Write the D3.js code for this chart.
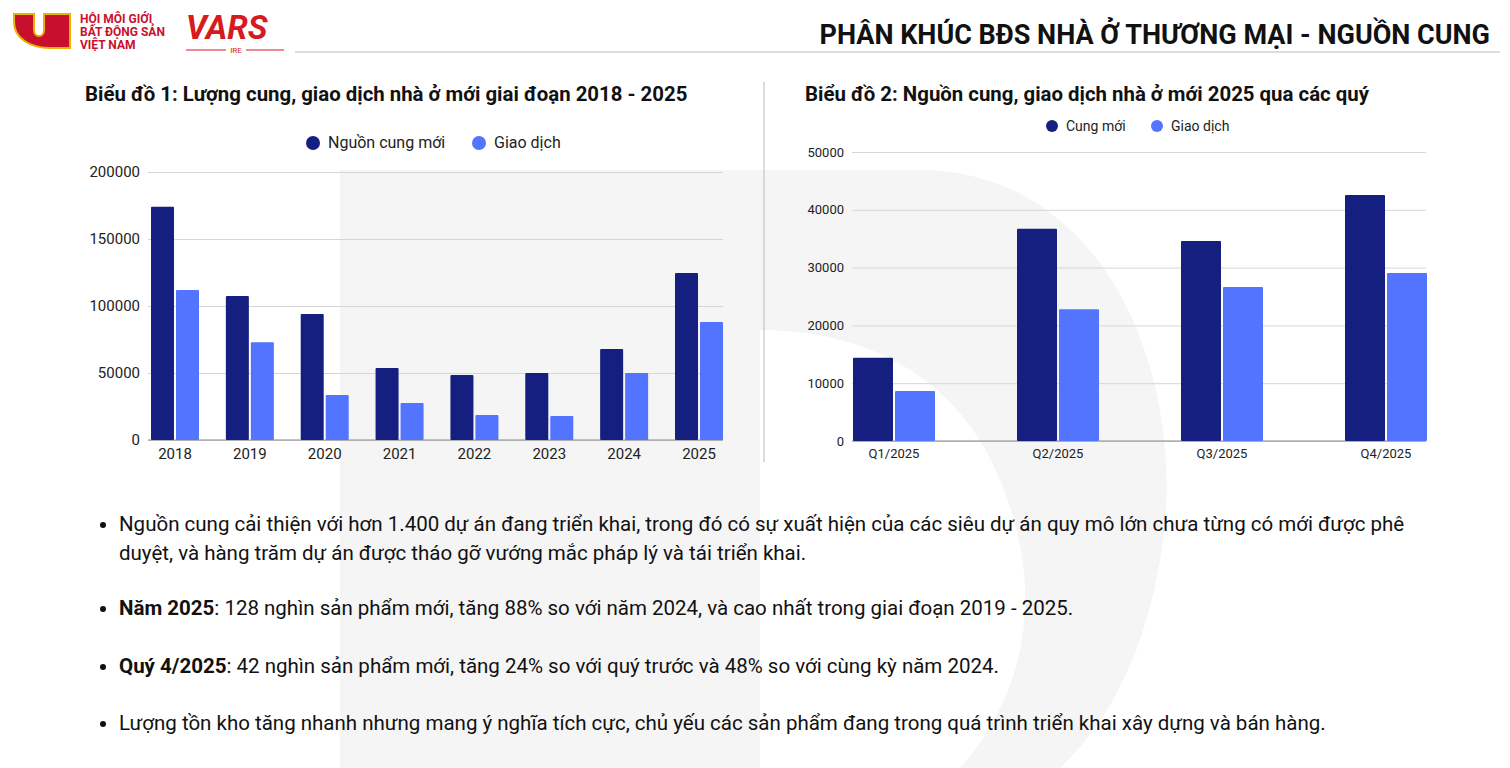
<!DOCTYPE html>
<html><head><meta charset="utf-8">
<script src="https://cdn.jsdelivr.net/npm/d3@7"></script>
<style>body{margin:0;background:#fff;font-family:Roboto,sans-serif}</style>
</head><body>
<script>
var years = ["2018","2019","2020","2021","2022","2023","2024","2025"],
    supplyYear = [174000,107500,94000,53700,48500,50000,68000,124600],
    dealsYear = [112000,73000,33600,27600,18700,17900,50000,88000],
    yearTicks = [0,50000,100000,150000,200000];

var quarters = ["Q1/2025","Q2/2025","Q3/2025","Q4/2025"],
    supplyQ = [14400,36700,34600,42550],
    dealsQ = [8650,22800,26650,29070],
    qTicks = [0,10000,20000,30000,40000,50000];

var DARK = "#141f7f", LIGHT = "#5274fe";

var svg = d3.select("body").append("svg").attr("width",1510).attr("height",768);

// watermark
svg.append("path").attr("fill","#f5f5f5")
  .attr("d","M340,170 L930,170 C1120,180 1190,400 1160,560 C1140,680 1090,740 1060,768 L960,768 C1020,700 1050,600 1000,480 C960,380 870,330 760,330 L760,768 L340,768 Z");

// header logos
var lg = svg.append("g");
lg.append("path").attr("fill","#c8102e").attr("stroke","#e8b400").attr("stroke-width",2)
  .attr("d","M14,14 L34,14 L34,30 C34,38 44,38 44,30 L44,14 L70,14 L70,48 L50,48 C30,48 14,38 14,22 Z");
lg.selectAll("text.org").data(["HỘI MÔI GIỚI","BẤT ĐỘNG SẢN","VIỆT NAM"]).enter().append("text")
  .attr("x",80).attr("y",function(d,i){return 23+i*13;})
  .attr("fill","#c8102e").attr("font-size",12).attr("font-weight",700).text(function(d){return d;});
lg.append("text").attr("x",186).attr("y",39).attr("fill","#d71920").attr("font-size",33)
  .attr("font-weight",700).attr("font-style","italic").text("VARS");
lg.append("text").attr("x",236).attr("y",53).attr("text-anchor","middle").attr("fill","#d71920")
  .attr("font-size",8).text("IRE");
lg.append("line").attr("x1",186).attr("x2",226).attr("y1",50).attr("y2",50).attr("stroke","#d71920");
lg.append("line").attr("x1",246).attr("x2",284).attr("y1",50).attr("y2",50).attr("stroke","#d71920");

svg.append("text").attr("x",1490).attr("y",44).attr("text-anchor","end")
  .attr("font-size",27).attr("font-weight",700).attr("fill","#111")
  .text("PHÂN KHÚC BĐS NHÀ Ở THƯƠNG MẠI - NGUỒN CUNG");
svg.append("line").attr("x1",295).attr("x2",1500).attr("y1",52).attr("y2",52).attr("stroke","#bbb");
svg.append("line").attr("x1",764).attr("x2",764).attr("y1",82).attr("y2",462).attr("stroke","#bbb");

function chart(o){
  var g = svg.append("g");
  g.append("text").attr("x",o.tx).attr("y",101).attr("font-size",20.4).attr("font-weight",700)
    .attr("fill","#111").text(o.title);
  var y = d3.scaleLinear().domain([0,o.max]).range([o.y0,o.y1]);
  var x = d3.scalePoint().domain(o.cats).range(o.xr);
  g.append("g").attr("transform","translate("+o.gx0+",0)")
    .call(d3.axisLeft(y).tickValues(o.ticks).tickFormat(d3.format("d")).tickSize(-(o.gx1-o.gx0)).tickPadding(o.pad))
    .call(function(a){
      a.select(".domain").remove();
      a.selectAll(".tick line").attr("stroke","#d6d6d6");
      a.selectAll(".tick text").attr("font-size",o.fs).attr("fill","#222").attr("font-family","Roboto");
    });
  g.append("line").attr("x1",o.gx0).attr("x2",o.gx1).attr("y1",o.y0).attr("y2",o.y0).attr("stroke","#888");
  var series = [{v:o.s1,c:DARK,dx:-o.bw-1},{v:o.s2,c:LIGHT,dx:1}];
  series.forEach(function(s){
    g.selectAll(null).data(o.cats).enter().append("rect")
      .attr("x",function(d){return x(d)+s.dx;}).attr("width",o.bw)
      .attr("y",function(d,i){return y(s.v[i]);})
      .attr("height",function(d,i){return o.y0-y(s.v[i]);})
      .attr("fill",s.c).attr("rx",1);
  });
  g.selectAll(null).data(o.cats).enter().append("text")
    .attr("x",function(d){return x(d);}).attr("y",o.y0+o.ly).attr("text-anchor","middle")
    .attr("font-size",o.fs).attr("fill","#222").text(function(d){return d;});
  var lgd = g.selectAll(null).data(o.legend).enter().append("g")
    .attr("transform",function(d,i){return "translate("+o.lx[i]+","+o.legy+")";});
  lgd.append("circle").attr("r",o.lr).attr("fill",function(d,i){return i?LIGHT:DARK;});
  lgd.append("text").attr("x",o.lr+8).attr("y",5).attr("font-size",o.lfs).attr("fill","#222")
    .text(function(d){return d;});
}

chart({title:"Biểu đồ 1: Lượng cung, giao dịch nhà ở mới giai đoạn 2018 - 2025",tx:85,
  cats:years,s1:supplyYear,s2:dealsYear,ticks:yearTicks,max:200000,y0:440,y1:172,
  xr:[175,699],gx0:148,gx1:723,bw:23,fs:15,pad:8,ly:19,
  legend:["Nguồn cung mới","Giao dịch"],lx:[313,479],legy:143,lr:7,lfs:16});
chart({title:"Biểu đồ 2: Nguồn cung, giao dịch nhà ở mới 2025 qua các quý",tx:805,
  cats:quarters,s1:supplyQ,s2:dealsQ,ticks:qTicks,max:50000,y0:441,y1:152,
  xr:[894,1386],gx0:852,gx1:1426,bw:40,fs:13,pad:8,ly:17,
  legend:["Cung mới","Giao dịch"],lx:[1052,1157],legy:126,lr:6,lfs:14});

// bullets
var bullets = [
  {y:531,parts:[["","Nguồn cung cải thiện với hơn 1.400 dự án đang triển khai, trong đó có sự xuất hiện của các siêu dự án quy mô lớn chưa từng có mới được phê"]]},
  {y:560,parts:[["","duyệt, và hàng trăm dự án được tháo gỡ vướng mắc pháp lý và tái triển khai."]],nob:true},
  {y:615,parts:[["b","Năm 2025"],["",": 128 nghìn sản phẩm mới, tăng 88% so với năm 2024, và cao nhất trong giai đoạn 2019 - 2025."]]},
  {y:673,parts:[["b","Quý 4/2025"],["",": 42 nghìn sản phẩm mới, tăng 24% so với quý trước và 48% so với cùng kỳ năm 2024."]]},
  {y:730,parts:[["","Lượng tồn kho tăng nhanh nhưng mang ý nghĩa tích cực, chủ yếu các sản phẩm đang trong quá trình triển khai xây dựng và bán hàng."]]}
];
bullets.forEach(function(b){
  if(!b.nob) svg.append("circle").attr("cx",103).attr("cy",b.y-6).attr("r",3).attr("fill","#111");
  var t = svg.append("text").attr("x",119).attr("y",b.y).attr("font-size",20.5).attr("fill","#111");
  b.parts.forEach(function(p){
    t.append("tspan").attr("font-weight",p[0]?700:400).text(p[1]);
  });
});
</script>
</body></html>
